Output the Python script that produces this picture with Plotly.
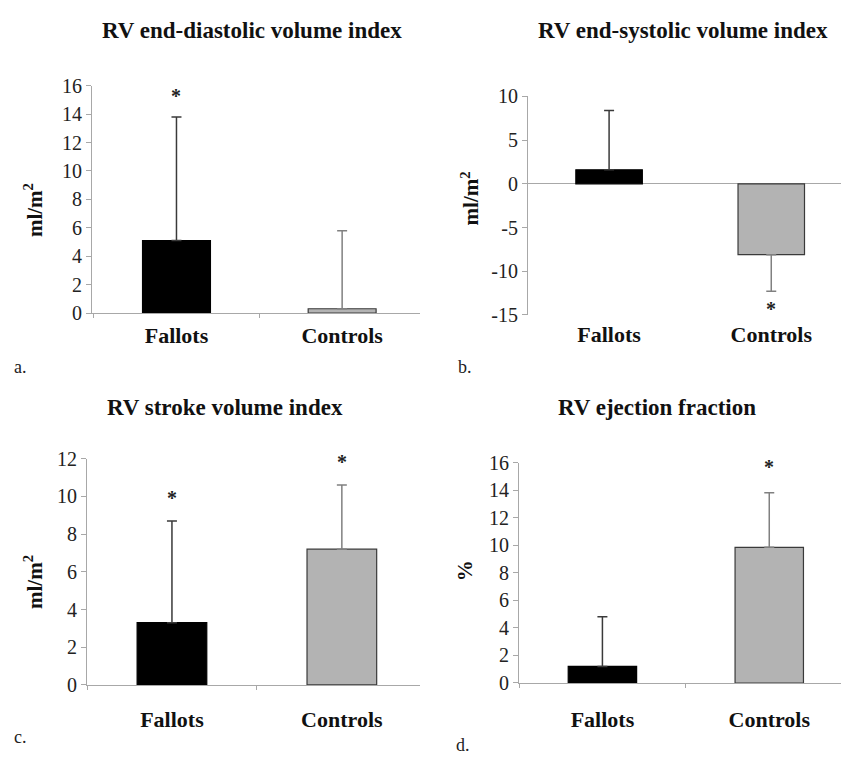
import plotly.graph_objects as go

# Group labels
groups = ["Fallots", "Controls"]

# Mean change and one-sided SD for each RV measure
edvi_mean = [5.1, 0.3]
edvi_sd = [8.7, 5.5]

esvi_mean = [1.6, -8.1]
esvi_sd = [6.8, 4.2]

svi_mean = [3.3, 7.2]
svi_sd = [5.4, 3.4]

ef_mean = [1.2, 9.85]
ef_sd = [3.6, 3.95]

# Value-axis ticks for each panel (labels printed with a plain hyphen)
edvi_ticks = [0, 2, 4, 6, 8, 10, 12, 14, 16]
esvi_ticks = [-15, -10, -5, 0, 5, 10]
svi_ticks = [0, 2, 4, 6, 8, 10, 12]
ef_ticks = [0, 2, 4, 6, 8, 10, 12, 14, 16]

# Significance markers: (group, y position)
edvi_star = [("Fallots", 15.3)]
esvi_star = [("Controls", -14.3)]
svi_star = [("Fallots", 9.9), ("Controls", 11.8)]
ef_star = [("Controls", 15.7)]

panel_titles = ["RV end-diastolic volume index", "RV end-systolic volume index",
                "RV stroke volume index", "RV ejection fraction"]
panel_letters = ["a.", "b.", "c.", "d."]
y_titles = ["ml/m<sup>2</sup>", "ml/m<sup>2</sup>", "ml/m<sup>2</sup>", "%"]

W, H = 841, 761
SERIF = "Liberation Serif"
AXIS_GREY = "#a8a8a8"
BAR_COLORS = ["#000000", "#b3b3b3"]
BAR_LINES = ["#000000", "#3a3a3a"]
ERR_COLORS = ["#3a3a3a", "#808080"]


def px_x(p):
    return p / W


def px_y(p):
    return 1 - p / H


panels = [
    dict(mean=edvi_mean, sd=edvi_sd, stars=edvi_star, ticks=edvi_ticks,
         xd=[92, 420], yd=[311, 77], xr=[-0.51, 1.47], stand=3),
    dict(mean=esvi_mean, sd=esvi_sd, stars=esvi_star, ticks=esvi_ticks,
         xd=[528, 841], yd=[313, 88], xr=[-0.5, 1.43], stand=4),
    dict(mean=svi_mean, sd=svi_sd, stars=svi_star, ticks=svi_ticks,
         xd=[87, 420], yd=[694, 461], xr=[-0.5, 1.46], stand=15),
    dict(mean=ef_mean, sd=ef_sd, stars=ef_star, ticks=ef_ticks,
         xd=[519, 841], yd=[692, 465], xr=[-0.5, 1.43], stand=17),
]

fig = go.Figure()
annotations = []

for i, p in enumerate(panels):
    n = i + 1
    xa = "x" if n == 1 else f"x{n}"
    ya = "y" if n == 1 else f"y{n}"
    xkey = "xaxis" if n == 1 else f"xaxis{n}"
    ykey = "yaxis" if n == 1 else f"yaxis{n}"

    for g, grp in enumerate(groups):
        m = p["mean"][g]
        s = p["sd"][g]
        up = s if m >= 0 else 0
        down = s if m < 0 else 0
        fig.add_trace(go.Bar(
            x=[grp], y=[m], xaxis=xa, yaxis=ya, width=0.41,
            marker=dict(color=BAR_COLORS[g], line=dict(color=BAR_LINES[g], width=1.2)),
            error_y=dict(type="data", symmetric=False, array=[up], arrayminus=[down],
                         color=ERR_COLORS[g], thickness=1.5, width=5),
            showlegend=False, hoverinfo="skip",
        ))

    for grp, yv in p["stars"]:
        annotations.append(dict(x=grp, y=yv, xref=xa, yref=ya, text="<b>*</b>",
                                showarrow=False, font=dict(family=SERIF, size=20, color="#222"),
                                xanchor="center", yanchor="middle"))

    ticks = p["ticks"]
    has_zero_cross = ticks[0] < 0
    fig.layout[xkey] = dict(
        domain=[px_x(p["xd"][0]), px_x(p["xd"][1])], anchor=ya,
        type="category", categoryorder="array", categoryarray=groups,
        range=p["xr"], showgrid=False, zeroline=False,
        showline=not has_zero_cross, linecolor=AXIS_GREY, linewidth=1,
        ticks="" if has_zero_cross else "outside", tickson="boundaries",
        ticklen=4, tickcolor=AXIS_GREY,
        ticklabelstandoff=p["stand"],
        tickfont=dict(family=SERIF, size=22, color="#111", weight="bold"),
        fixedrange=True,
    )
    fig.layout[ykey] = dict(
        domain=[px_y(p["yd"][0]), px_y(p["yd"][1])], anchor=xa,
        range=[ticks[0], ticks[-1]], tickmode="array", tickvals=ticks,
        ticktext=[str(t) for t in ticks], showgrid=False,
        zeroline=has_zero_cross, zerolinecolor=AXIS_GREY, zerolinewidth=1,
        showline=True, linecolor=AXIS_GREY, linewidth=1,
        ticks="outside", ticklen=5, tickcolor=AXIS_GREY,
        tickfont=dict(family=SERIF, size=20, color="#222"),
        fixedrange=True,
    )

    # Panel heading
    title_y = [20, 20, 408, 408][i]
    title_x = [252, 683, 225, 657][i]
    annotations.append(dict(x=px_x(title_x), y=px_y(title_y), xref="paper", yref="paper",
                            text=panel_titles[i], showarrow=False,
                            font=dict(family=SERIF, size=23, color="#111", weight="bold"),
                            xanchor="center", yanchor="middle"))
    # Vertical unit label
    yt_x = [33, 470, 33, 465][i]
    yt_y = [205, 193, 588, 577][i]
    annotations.append(dict(x=px_x(yt_x), y=px_y(yt_y), xref="paper", yref="paper",
                            text=y_titles[i], showarrow=False, textangle=-90,
                            font=dict(family=SERIF, size=21, color="#111", weight="bold"),
                            xanchor="center", yanchor="middle"))
    # Panel letter
    lx = [20, 465, 20, 463][i]
    ly = [367, 367, 748, 756][i]
    annotations.append(dict(x=px_x(lx), y=px_y(ly), xref="paper", yref="paper",
                            text=panel_letters[i], showarrow=False,
                            font=dict(family=SERIF, size=18, color="#222"),
                            xanchor="center", yanchor="middle"))

fig.update_layout(
    width=W, height=H, margin=dict(l=0, r=0, t=0, b=0),
    paper_bgcolor="white", plot_bgcolor="white",
    barmode="overlay", annotations=annotations, showlegend=False,
    font=dict(family=SERIF),
)

fig.write_html("out.html", include_plotlyjs=True, config={"displayModeBar": False})
